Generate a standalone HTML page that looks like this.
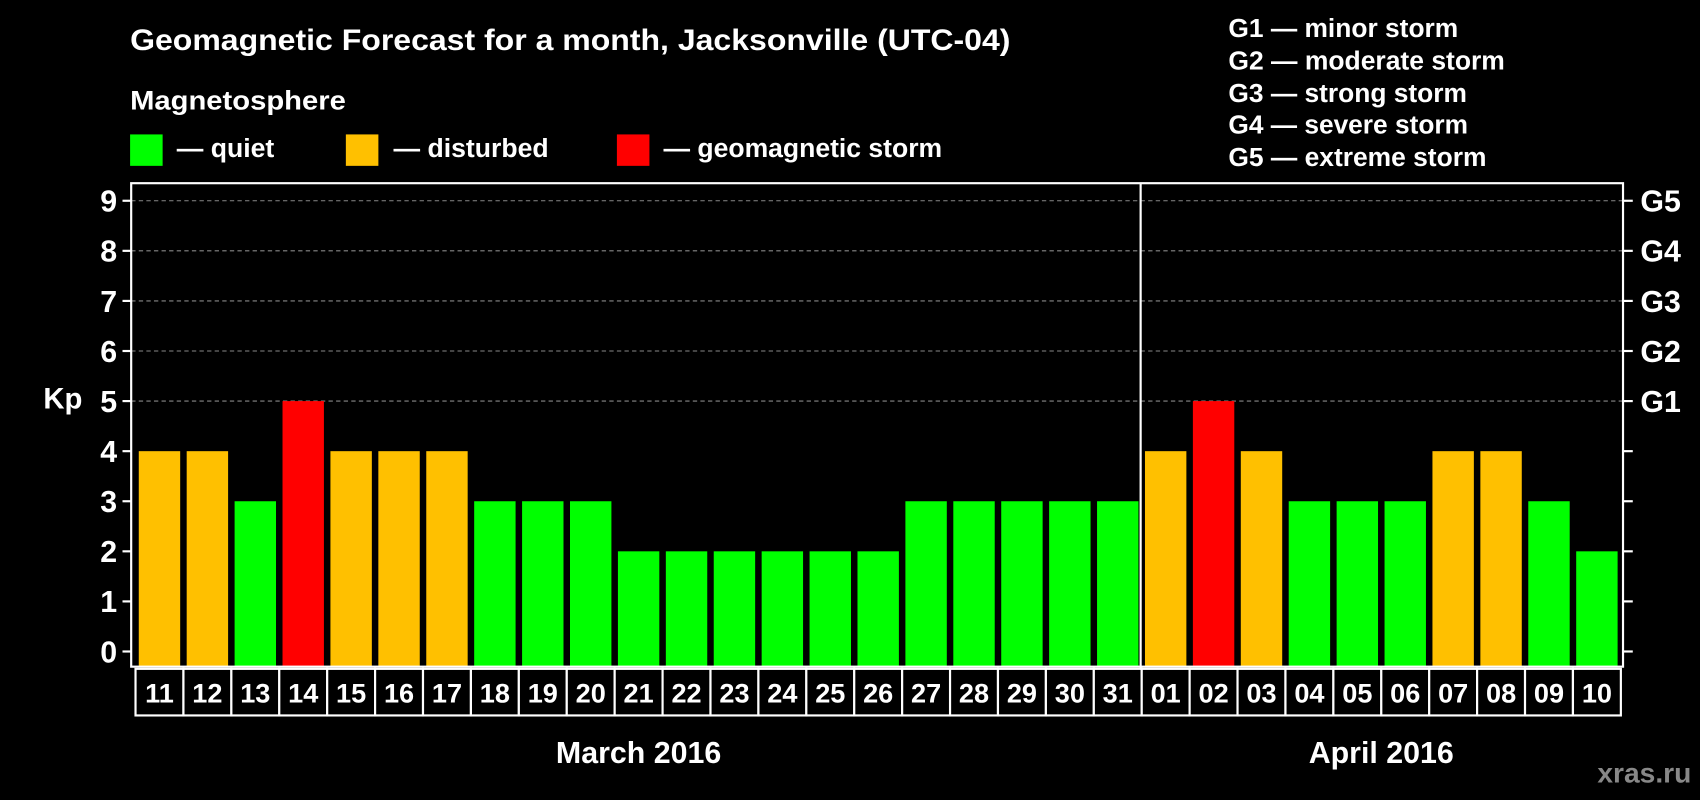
<!DOCTYPE html>
<html><head><meta charset="utf-8"><style>
html,body{margin:0;padding:0;background:#000;}
svg{display:block;}
text{font-family:"Liberation Sans",Arial,sans-serif;font-weight:bold;fill:#fff;}
</style></head><body>
<svg id="chart" width="1700" height="800" viewBox="0 0 1568 738" preserveAspectRatio="none" xmlns="http://www.w3.org/2000/svg">
<rect x="0" y="0" width="1568" height="738" fill="#000"/>
<text x="120" y="46" font-size="27" textLength="812" lengthAdjust="spacingAndGlyphs">Geomagnetic Forecast for a month, Jacksonville (UTC-04)</text>
<text x="120" y="101" font-size="25" textLength="199" lengthAdjust="spacingAndGlyphs">Magnetosphere</text>
<rect x="120" y="124" width="30" height="29" fill="#00ff00"/>
<text x="163" y="145" font-size="24" textLength="90" lengthAdjust="spacingAndGlyphs">— quiet</text>
<rect x="319" y="124" width="30" height="29" fill="#ffc000"/>
<text x="363" y="145" font-size="24" textLength="143" lengthAdjust="spacingAndGlyphs">— disturbed</text>
<rect x="569" y="124" width="30" height="29" fill="#ff0000"/>
<text x="612" y="145" font-size="24" textLength="257" lengthAdjust="spacingAndGlyphs">— geomagnetic storm</text>
<g font-size="24">
<text x="1133" y="34" textLength="212" lengthAdjust="spacingAndGlyphs">G1 — minor storm</text>
<text x="1133" y="64" textLength="255" lengthAdjust="spacingAndGlyphs">G2 — moderate storm</text>
<text x="1133" y="94" textLength="220" lengthAdjust="spacingAndGlyphs">G3 — strong storm</text>
<text x="1133" y="123" textLength="221" lengthAdjust="spacingAndGlyphs">G4 — severe storm</text>
<text x="1133" y="153" textLength="238" lengthAdjust="spacingAndGlyphs">G5 — extreme storm</text>
</g>
<text x="40" y="377" font-size="27">Kp</text>
<g id="grid"></g>
<g id="bars"></g>
<g id="axes"></g>
<text x="589" y="704" font-size="28" text-anchor="middle">March 2016</text>
<text x="1274" y="704" font-size="28" text-anchor="middle">April 2016</text>
<text x="1560" y="722" font-size="26" text-anchor="end" style="fill:#888">xras.ru</text>
</svg>
<script>
const days = ["11","12","13","14","15","16","17","18","19","20","21","22","23","24","25","26","27","28","29","30","31","01","02","03","04","05","06","07","08","09","10"];
const kpValues = [4,4,3,5,4,4,4,3,3,3,2,2,2,2,2,2,3,3,3,3,3,4,5,4,3,3,3,4,4,3,2];
const yTicks = [0,1,2,3,4,5,6,7,8,9];
const gLabels = ["G1","G2","G3","G4","G5"];
const gValues = [5,6,7,8,9];
const monthBreakIndex = 21;

const NS="http://www.w3.org/2000/svg";
const L=121,R=1497,T=169,B=615,cellX0=125,cellW=(1495-125)/31;
function y(v){return 601-46.2*v;}
function x(i){return cellX0+i*cellW;}
function mk(tag,attrs,parent){const e=document.createElementNS(NS,tag);for(const k in attrs)e.setAttribute(k,attrs[k]);parent.appendChild(e);return e;}
const grid=document.getElementById('grid'),bars=document.getElementById('bars'),axes=document.getElementById('axes');
gValues.forEach(v=>{
  const ln=mk('line',{x1:L,x2:R,y1:y(v),y2:y(v),stroke:'#888','stroke-dasharray':'4,3','stroke-width':1},grid);
  
  
});
kpValues.forEach((v,i)=>{
  const col=v>=5?'#ff0000':(v>=4?'#ffc000':'#00ff00');
  const r=mk('rect',{x:x(i)+3,y:y(v),width:cellW-6,height:B-y(v),fill:col},bars);
  
  
});
const frame=mk('rect',{x:L,y:T,width:R-L,height:B-T,fill:'none',stroke:'#fff','stroke-width':2},axes);


const div=mk('line',{x1:x(monthBreakIndex)-1,x2:x(monthBreakIndex)-1,y1:T,y2:660,stroke:'#fff','stroke-width':2},axes);


yTicks.forEach(v=>{
  mk('line',{x1:113,x2:L,y1:y(v),y2:y(v),stroke:'#fff','stroke-width':2},axes);
  mk('line',{x1:R,x2:1506,y1:y(v),y2:y(v),stroke:'#fff','stroke-width':2},axes);
  const t=mk('text',{x:108,y:y(v)+10,'font-size':28,'text-anchor':'end'},axes);
  t.textContent=v;
  
  
});
gValues.forEach((v,i)=>{
  const t=mk('text',{x:1513,y:y(v)+10,'font-size':28},axes);
  t.textContent=gLabels[i];
  
  
});
days.forEach((d,i)=>{
  const c=mk('rect',{x:x(i),y:617,width:cellW,height:43,fill:'#000',stroke:'#fff','stroke-width':2},axes);
  
  
  const t=mk('text',{x:x(i)+cellW/2,y:648,'font-size':25,'text-anchor':'middle'},axes);
  t.textContent=d;
  
  
});
</script>
</body></html>
